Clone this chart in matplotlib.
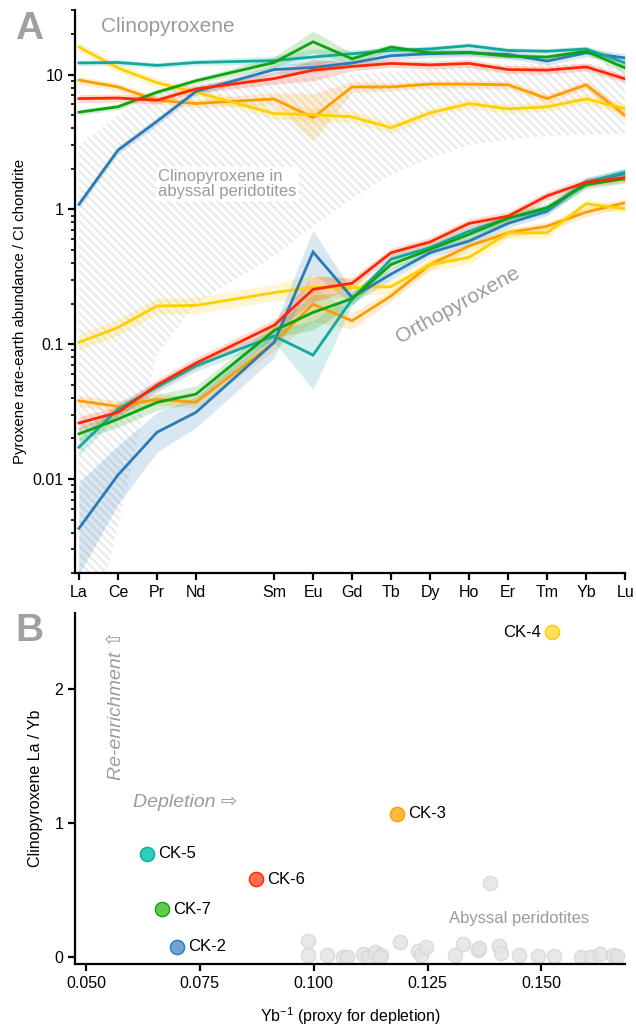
import numpy as np
import matplotlib
matplotlib.use('Agg')
import matplotlib.pyplot as plt
from matplotlib.ticker import FixedLocator, LogLocator, NullFormatter, FuncFormatter

plt.rcParams['font.family'] = ['Liberation Sans', 'DejaVu Sans']
plt.rcParams['mathtext.default'] = 'regular'
plt.rcParams['hatch.linewidth'] = 1.8

# rare earth elements (Pm skipped, so positions follow atomic number)
elements = ['La', 'Ce', 'Pr', 'Nd', 'Sm', 'Eu', 'Gd', 'Tb', 'Dy', 'Ho', 'Er', 'Tm', 'Yb', 'Lu']
atomic_number = [57, 58, 59, 60, 62, 63, 64, 65, 66, 67, 68, 69, 70, 71]

samples = ['CK-2', 'CK-3', 'CK-4', 'CK-5', 'CK-6', 'CK-7']
colors = ['#2b7bb5', '#ff9c00', '#ffd000', '#13a89e', '#ff2800', '#0fa30f']

# clinopyroxene, CI-normalised
cpx_ck2 = [1.09, 2.75, 4.5, 7.5, 10.9, 11.3, 12.2, 13.8, 14.3, 14.5, 14.1, 12.6, 14.5, 13.3]
cpx_ck3 = [9.1, 8.1, 6.45, 6.1, 6.6, 4.8, 8.1, 8.1, 8.5, 8.5, 8.4, 6.64, 8.4, 4.97]
cpx_ck4 = [16.0, 11.2, 8.7, 7.4, 5.14, 5.05, 4.86, 4.03, 5.2, 6.1, 5.57, 5.77, 6.6, 5.57]
cpx_ck5 = [12.2, 12.3, 11.7, 12.3, 12.7, 13.5, 14.3, 15.1, 15.5, 16.4, 15.1, 14.9, 15.5, 12.2]
cpx_ck6 = [6.64, 6.7, 6.45, 7.83, 9.34, 10.8, 11.5, 12.1, 11.8, 12.1, 10.9, 10.8, 11.4, 9.3]
cpx_ck7 = [5.26, 5.77, 7.4, 9.0, 12.3, 17.5, 13.1, 16.0, 14.5, 14.6, 13.7, 13.5, 14.9, 11.2]

# orthopyroxene, CI-normalised
opx_ck2 = [0.0043, 0.0107, 0.0222, 0.0312, 0.103, 0.483, 0.222, 0.331, 0.477, 0.582, 0.787, 0.97, 1.59, 1.85]
opx_ck3 = [0.038, 0.0345, 0.039, 0.037, 0.103, 0.198, 0.149, 0.228, 0.39, 0.535, 0.67, 0.75, 0.955, 1.12]
opx_ck4 = [0.103, 0.133, 0.192, 0.194, 0.241, 0.265, 0.263, 0.267, 0.39, 0.44, 0.67, 0.67, 1.1, 1.01]
opx_ck5 = [0.0172, 0.033, 0.048, 0.069, 0.115, 0.083, 0.215, 0.427, 0.52, 0.69, 0.86, 1.0, 1.59, 1.89]
opx_ck6 = [0.026, 0.0312, 0.0497, 0.0723, 0.138, 0.255, 0.283, 0.477, 0.573, 0.787, 0.89, 1.26, 1.59, 1.72]
opx_ck7 = [0.0216, 0.0278, 0.037, 0.0426, 0.126, 0.172, 0.218, 0.39, 0.505, 0.653, 0.86, 1.03, 1.53, 1.69]

# uncertainty as multiplicative factor (band = value / f .. value * f)
cpx_err_ck2 = [1.07, 1.07, 1.07, 1.07, 1.08, 1.1, 1.07, 1.07, 1.07, 1.07, 1.07, 1.07, 1.07, 1.08]
cpx_err_ck3 = [1.07, 1.07, 1.07, 1.07, 1.12, 1.5, 1.1, 1.07, 1.07, 1.07, 1.07, 1.08, 1.07, 1.1]
cpx_err_ck4 = [1.08, 1.08, 1.08, 1.08, 1.1, 1.12, 1.1, 1.1, 1.08, 1.08, 1.08, 1.08, 1.08, 1.1]
cpx_err_ck5 = [1.05, 1.05, 1.05, 1.05, 1.08, 1.15, 1.07, 1.05, 1.05, 1.05, 1.05, 1.05, 1.05, 1.1]
cpx_err_ck6 = [1.07, 1.07, 1.07, 1.07, 1.1, 1.2, 1.08, 1.07, 1.07, 1.07, 1.07, 1.07, 1.07, 1.07]
cpx_err_ck7 = [1.05, 1.05, 1.05, 1.05, 1.1, 1.2, 1.1, 1.05, 1.05, 1.05, 1.05, 1.05, 1.05, 1.1]

opx_err_ck2 = [2.2, 1.65, 1.4, 1.3, 1.3, 1.45, 1.12, 1.1, 1.08, 1.08, 1.08, 1.08, 1.08, 1.08]
opx_err_ck3 = [1.1, 1.1, 1.1, 1.1, 1.15, 1.35, 1.15, 1.1, 1.1, 1.08, 1.08, 1.08, 1.08, 1.08]
opx_err_ck4 = [1.15, 1.15, 1.15, 1.15, 1.15, 1.25, 1.15, 1.12, 1.12, 1.12, 1.1, 1.1, 1.08, 1.08]
opx_err_ck5 = [1.15, 1.12, 1.1, 1.1, 1.1, 1.8, 1.1, 1.08, 1.08, 1.08, 1.08, 1.08, 1.08, 1.08]
opx_err_ck6 = [1.12, 1.1, 1.1, 1.1, 1.1, 1.25, 1.1, 1.08, 1.08, 1.08, 1.08, 1.08, 1.08, 1.08]
opx_err_ck7 = [1.12, 1.15, 1.15, 1.15, 1.12, 1.35, 1.12, 1.08, 1.08, 1.08, 1.08, 1.08, 1.08, 1.08]

# clinopyroxene field of abyssal peridotites
abyssal_low = [0.0003, 0.0045, 0.085, 0.2, 0.45, 0.75, 1.2, 1.8, 2.4, 3.0, 3.3, 3.5, 3.6, 3.6]
abyssal_high = [3.0, 5.0, 7.5, 8.5, 9.0, 9.5, 10, 10.5, 11, 11.5, 12, 12, 12, 12]

# panel B
ck_inv_yb = [0.0700, 0.1184, 0.1524, 0.0634, 0.0873, 0.0667]
ck_la_yb = [0.08, 1.07, 2.42, 0.77, 0.58, 0.357]
ck_face = ['#70a4d2', '#ffbb3c', '#ffe05a', '#2ccdbd', '#ff6e50', '#5fcd4b']

aby_inv_yb = [0.0987, 0.0987, 0.1029, 0.1064, 0.1074, 0.1108, 0.1119, 0.1134, 0.1148, 0.1145,
              0.1189, 0.1229, 0.1236, 0.1247, 0.1311, 0.1327, 0.1361, 0.1362, 0.1387, 0.1407,
              0.1412, 0.1450, 0.1492, 0.1528, 0.1586, 0.1610, 0.1628, 0.1658, 0.1665]
aby_la_yb = [0.126, 0.015, 0.015, 0.003, 0.003, 0.027, 0.003, 0.04, 0.015, 0.003,
             0.114, 0.047, 0.015, 0.077, 0.015, 0.10, 0.052, 0.069, 0.555, 0.082,
             0.032, 0.015, 0.01, 0.01, 0.003, 0.003, 0.027, 0.015, 0.008]

cpx = [cpx_ck2, cpx_ck3, cpx_ck4, cpx_ck5, cpx_ck6, cpx_ck7]
opx = [opx_ck2, opx_ck3, opx_ck4, opx_ck5, opx_ck6, opx_ck7]
cpx_err = [cpx_err_ck2, cpx_err_ck3, cpx_err_ck4, cpx_err_ck5, cpx_err_ck6, cpx_err_ck7]
opx_err = [opx_err_ck2, opx_err_ck3, opx_err_ck4, opx_err_ck5, opx_err_ck6, opx_err_ck7]

x = np.array(atomic_number) - 57
gray = '#9b9b9b'

fig = plt.figure(figsize=(6.36, 10.29), dpi=100)
axA = fig.add_axes([0.118, 0.443, 0.865, 0.547])
axB = fig.add_axes([0.118, 0.063, 0.865, 0.341])

# ---- panel A
axA.fill_between(x, abyssal_low, abyssal_high, facecolor='none', edgecolor='#ebebeb',
                 hatch='\\\\\\\\', linewidth=0, zorder=0)

draw_order = [1, 2, 0, 3, 5, 4]
for i in draw_order:
    c = colors[i]
    for vals, err in ((cpx[i], cpx_err[i]), (opx[i], opx_err[i])):
        v = np.array(vals)
        f = np.array(err)
        axA.fill_between(x, v / f, v * f, color=c, alpha=0.18, linewidth=0, zorder=1)
        axA.plot(x, v, color=c, lw=2.0, zorder=3, solid_joinstyle='miter')

axA.set_yscale('log')
axA.set_ylim(0.002, 30)
axA.set_xlim(-0.1, 14)
axA.xaxis.set_major_locator(FixedLocator(x))
axA.set_xticklabels(elements)
axA.yaxis.set_major_locator(FixedLocator([0.01, 0.1, 1, 10]))
axA.yaxis.set_major_formatter(FuncFormatter(lambda v, p: '%g' % v))
axA.yaxis.set_minor_locator(LogLocator(base=10, subs=np.arange(2, 10)))
axA.yaxis.set_minor_formatter(NullFormatter())
axA.set_ylabel('Pyroxene rare-earth abundance / CI chondrite', fontsize=10.8, labelpad=4)
axA.yaxis.set_label_coords(-0.087, 0.465)

axA.text(0.56, 22.7, 'Clinopyroxene', color=gray, fontsize=15, va='center', ha='left')
axA.text(2.03, 1.53, 'Clinopyroxene in\nabyssal peridotites', color=gray, fontsize=12,
         va='center', ha='left', linespacing=1.0,
         bbox=dict(facecolor='white', edgecolor='none', pad=1.5), zorder=2)
axA.text(9.7, 0.195, 'Orthopyroxene', color=gray, fontsize=15, rotation=29,
         va='center', ha='center', rotation_mode='anchor')

# ---- panel B
axB.scatter(aby_inv_yb, aby_la_yb, s=105, facecolor='#e4e4e4', edgecolor='#d6d6d6',
            linewidth=1, alpha=0.85, zorder=2)
for i, name in enumerate(samples):
    axB.scatter(ck_inv_yb[i], ck_la_yb[i], s=105, facecolor=ck_face[i],
                edgecolor=colors[i], linewidth=1, zorder=3)
    if name == 'CK-4':
        axB.annotate(name, (ck_inv_yb[i], ck_la_yb[i]), xytext=(-8, 0),
                     textcoords='offset points', ha='right', va='center', fontsize=12)
    else:
        axB.annotate(name, (ck_inv_yb[i], ck_la_yb[i]), xytext=(8, 0),
                     textcoords='offset points', ha='left', va='center', fontsize=12)

axB.set_xlim(0.0476, 0.1684)
axB.set_ylim(-0.05, 2.56)
axB.set_xticks([0.050, 0.075, 0.100, 0.125, 0.150])
axB.xaxis.set_major_formatter(FuncFormatter(lambda v, p: '%.3f' % v))
axB.set_yticks([0, 1, 2])
axB.set_ylabel('Clinopyroxene La / Yb', fontsize=11.5, labelpad=8)
axB.set_xlabel('Yb$^{-1}$ (proxy for depletion)', fontsize=11.5, labelpad=10)

axB.text(0.1298, 0.29, 'Abyssal peridotites', color=gray, fontsize=12, ha='left', va='center')
axB.text(0.0603, 1.15, 'Depletion \u21e8', color=gray, fontsize=14, style='italic',
         ha='left', va='center')
axB.text(0.0568, 1.32, 'Re-enrichment \u21e7', color=gray, fontsize=14, style='italic',
         rotation=90, ha='center', va='bottom')

for ax in (axA, axB):
    for s in ('top', 'right'):
        ax.spines[s].set_visible(False)
    for s in ('left', 'bottom'):
        ax.spines[s].set_linewidth(1.6)
    ax.tick_params(which='major', length=5, width=1.6, labelsize=11.5, direction='out')
    ax.tick_params(which='minor', length=3, width=1.2)

fig.text(15 / 636, 1 - 11 / 1029, 'A', fontsize=28, fontweight='bold', color='#a0a0a0',
         va='top', ha='left')
fig.text(15 / 636, 1 - 613 / 1029, 'B', fontsize=28, fontweight='bold', color='#a0a0a0',
         va='top', ha='left')

fig.savefig('out.png', dpi=100)
